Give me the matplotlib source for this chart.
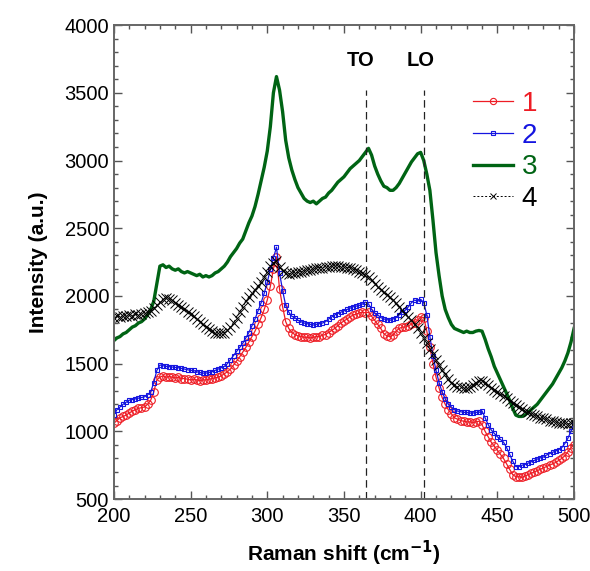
import matplotlib
matplotlib.use("Agg")
import numpy as np
import matplotlib.pyplot as plt
from matplotlib.ticker import MultipleLocator

plt.rcParams['font.family'] = ['Liberation Sans', 'DejaVu Sans']

# Raman shift, cm-1 (every 2 cm-1)
shift = np.arange(200, 501, 2)

# spectrum 1 (red, circles)
s1 = [1060, 1080, 1100, 1110, 1120, 1135, 1150, 1160, 1170, 1175,
      1180, 1200, 1230, 1290, 1380, 1400, 1410, 1400, 1405, 1400,
      1395, 1400, 1390, 1390, 1385, 1380, 1385, 1380, 1375, 1380,
      1380, 1385, 1390, 1395, 1400, 1410, 1425, 1440, 1460, 1490,
      1520, 1550, 1585, 1620, 1660, 1700, 1740, 1790, 1840, 1900,
      1970, 2070, 2200, 2290, 2050, 1920, 1810, 1760, 1730, 1715,
      1705, 1700, 1695, 1695, 1690, 1695, 1700, 1700, 1710, 1715,
      1730, 1745, 1760, 1780, 1800, 1815, 1830, 1845, 1860, 1865,
      1875, 1880, 1875, 1880, 1850, 1820, 1790, 1760, 1720, 1705,
      1700, 1710, 1740, 1760, 1770, 1770, 1780, 1790, 1800, 1820,
      1845, 1840, 1740, 1620, 1500, 1400, 1320, 1250, 1200, 1160,
      1130, 1100, 1090, 1080, 1075, 1070, 1070, 1065, 1070, 1075,
      1050, 1000, 960, 920, 890, 860, 830, 800, 760, 720,
      680, 665, 665, 660, 670, 680, 690, 700, 710, 720,
      730, 740, 750, 760, 770, 785, 800, 820, 850, 880,
      900]

# spectrum 2 (blue, squares)
s2 = [1120, 1160, 1180, 1200, 1215, 1230, 1235, 1240, 1245, 1250,
      1255, 1270, 1290, 1360, 1450, 1490, 1485, 1480, 1478, 1475,
      1472, 1470, 1465, 1460, 1455, 1450, 1450, 1440, 1435, 1430,
      1430, 1435, 1440, 1450, 1460, 1470, 1480, 1500, 1530, 1560,
      1590, 1620, 1650, 1690, 1730, 1780, 1830, 1890, 1950, 2020,
      2100, 2200, 2280, 2360, 2170, 2040, 1930, 1880, 1850, 1840,
      1820, 1810, 1800, 1795, 1790, 1785, 1790, 1795, 1800, 1810,
      1830, 1845, 1860, 1870, 1880, 1890, 1900, 1910, 1920, 1925,
      1930, 1940, 1955, 1940, 1900, 1875, 1860, 1840, 1830, 1825,
      1820, 1830, 1840, 1860, 1880, 1895, 1920, 1950, 1970, 1960,
      1975, 1950, 1860, 1700, 1560, 1450, 1360, 1290, 1240, 1200,
      1180, 1160, 1150, 1145, 1140, 1140, 1135, 1135, 1140, 1140,
      1150, 1100, 1050, 1010, 985, 960, 940, 920, 880, 830,
      780, 740, 740, 750, 755, 765, 775, 785, 795, 805,
      810, 825, 835, 845, 855, 865, 880, 910, 950, 1000,
      1060]

# spectrum 3 (green, line)
s3 = [1670, 1690, 1700, 1720, 1730, 1750, 1770, 1780, 1800, 1810,
      1830, 1860, 1900, 1960, 2090, 2220, 2230, 2210, 2220, 2200,
      2190, 2200, 2180, 2170, 2180, 2170, 2160, 2150, 2160, 2140,
      2150, 2140, 2150, 2170, 2180, 2200, 2220, 2250, 2290, 2320,
      2350, 2390, 2420, 2480, 2540, 2590, 2660, 2750, 2850, 2950,
      3070, 3250, 3500, 3620, 3520, 3360, 3150, 3020, 2930, 2860,
      2800, 2760, 2720, 2700, 2690, 2700, 2680, 2700, 2720, 2730,
      2760, 2780, 2810, 2840, 2860, 2880, 2910, 2940, 2960, 2980,
      3000, 3030, 3060, 3090, 3040, 2960, 2900, 2850, 2810, 2800,
      2780, 2780, 2800, 2830, 2870, 2910, 2950, 2990, 3020, 3050,
      3060, 3000, 2900, 2780, 2560, 2320, 2150, 2000, 1900, 1840,
      1790, 1760, 1750, 1740, 1730, 1740, 1730, 1730, 1740, 1745,
      1740, 1680, 1610, 1550, 1480, 1430, 1380, 1330, 1280, 1230,
      1170, 1120, 1110, 1110, 1120, 1140, 1160, 1180, 1200, 1230,
      1260, 1290, 1320, 1350, 1390, 1430, 1470, 1520, 1580, 1660,
      1760]

# spectrum 4 (black, crosses)
s4 = [1840, 1850, 1845, 1855, 1850, 1860, 1855, 1865, 1860, 1870,
      1875, 1880, 1890, 1910, 1935, 1955, 1975, 1985, 1980, 1970,
      1950, 1935, 1920, 1905, 1885, 1870, 1850, 1830, 1810, 1790,
      1770, 1755, 1740, 1730, 1725, 1725, 1730, 1745, 1770, 1800,
      1840, 1880, 1920, 1960, 1990, 2020, 2045, 2070, 2100, 2140,
      2180, 2220, 2245, 2260, 2215, 2185, 2170, 2165, 2170, 2170,
      2175, 2180, 2185, 2190, 2195, 2200, 2205, 2210, 2210, 2215,
      2215, 2220, 2220, 2220, 2215, 2215, 2210, 2210, 2200, 2190,
      2180, 2170, 2155, 2140, 2120, 2090, 2065, 2045, 2030, 2010,
      1990, 1970, 1945, 1920, 1895, 1870, 1845, 1820, 1790, 1760,
      1725, 1690, 1650, 1610, 1570, 1530, 1490, 1450, 1420, 1390,
      1360, 1340, 1330, 1325, 1320, 1320, 1330, 1345, 1360, 1370,
      1375, 1360, 1340, 1320, 1305, 1290, 1275, 1260, 1245, 1225,
      1210, 1195, 1180, 1165, 1150, 1140, 1130, 1120, 1110, 1100,
      1095, 1090, 1080, 1075, 1070, 1065, 1060, 1060, 1055, 1060,
      1065]

mode_pos = [364.5, 402.2]
mode_names = ["TO", "LO"]
mode_text_x = [361, 400]

fig = plt.figure(figsize=(5.9, 5.71), dpi=100)
ax = fig.add_axes([0.193, 0.126, 0.780, 0.830])

ax.plot(shift, s1, color="#ee1c24", lw=0.9, marker="o", ms=5.5,
        mfc="none", mew=0.8, label="1")
ax.plot(shift, s2, color="#1515e0", lw=0.9, marker="s", ms=2.4,
        mfc="none", mew=0.8, label="2")
ax.plot(shift, s3, color="#006414", lw=2.4, label="3")
ax.plot(shift, s4, color="black", lw=0.7, ls=(0, (2, 2)), marker="x",
        ms=7, mew=0.7, label="4")

for xp, name, tx in zip(mode_pos, mode_names, mode_text_x):
    ax.vlines(xp, 500, 3520, colors="#222222", lw=0.9, linestyles=(0, (6, 3.5)))
    ax.text(tx, 3740, name, fontsize=14.5, fontweight="bold",
            ha="center", va="center")

ax.set_xlim(200, 500)
ax.set_ylim(500, 4000)
ax.xaxis.set_major_locator(MultipleLocator(50))
ax.xaxis.set_minor_locator(MultipleLocator(10))
ax.yaxis.set_major_locator(MultipleLocator(500))
ax.yaxis.set_minor_locator(MultipleLocator(100))
ax.tick_params(which="both", direction="in", top=True, right=True,
               color="#555555", labelsize=14.5)
ax.tick_params(which="major", length=6, width=1)
ax.tick_params(which="minor", length=3, width=1)
ax.tick_params(axis="x", pad=6)
for sp in ax.spines.values():
    sp.set_color("#666666")
    sp.set_linewidth(1.4)

ax.set_xlabel("Raman shift (cm$^{\\mathbf{-1}}$)", fontsize=15,
              fontweight="bold", labelpad=9)
ax.set_ylabel("Intensity (a.u.)", fontsize=15, fontweight="bold",
              labelpad=12)

leg = ax.legend(loc="upper left", bbox_to_anchor=(0.75, 0.89),
                frameon=False, fontsize=20, handlelength=1.45,
                handletextpad=0.3, labelspacing=0.2, borderpad=0,
                numpoints=1)
for txt, line in zip(leg.get_texts(), leg.get_lines()):
    txt.set_color(line.get_color())
# smaller markers in the legend keys
for line, ms in zip(leg.get_lines(), [4.5, 2.4, 0, 5]):
    line.set_markersize(ms)

fig.savefig("out.png", dpi=100)
